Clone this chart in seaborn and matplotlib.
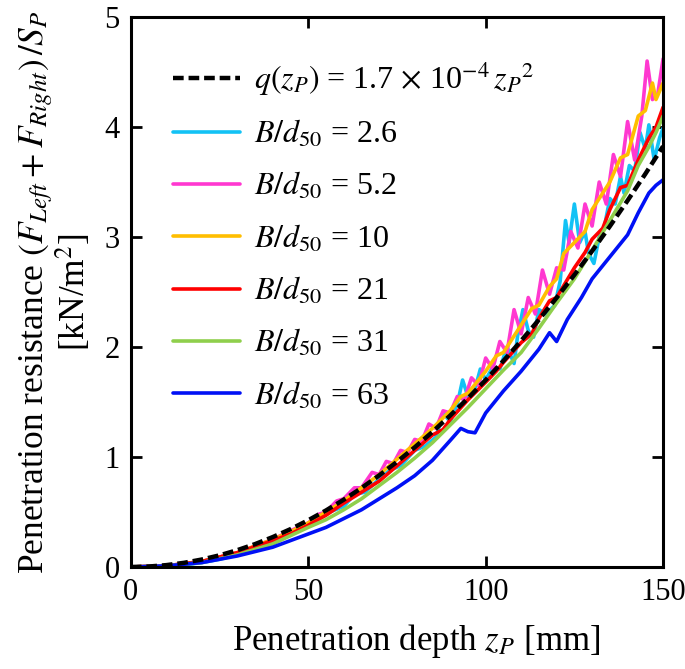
import matplotlib
matplotlib.use("Agg")
from matplotlib import pyplot as plt
import seaborn as sns

z_fit = [0, 5, 10, 15, 20, 25, 30, 35, 40, 45, 50, 55, 60, 65, 70, 75, 80, 85,
         90, 95, 100, 105, 110, 115, 120, 125, 130, 135, 140, 145, 150]
q_fit = [0.0, 0.004, 0.017, 0.038, 0.068, 0.106, 0.153, 0.208, 0.272, 0.344,
         0.425, 0.514, 0.612, 0.718, 0.833, 0.956, 1.088, 1.228, 1.377, 1.534,
         1.700, 1.874, 2.057, 2.248, 2.448, 2.656, 2.873, 3.098, 3.332, 3.574, 3.825]

z_26 = [0, 5, 10, 15, 20, 25, 30, 35, 40, 45, 50, 53, 56, 60, 63, 66, 70, 73, 76, 80,
        83, 86, 88, 90, 92, 93.5, 95, 97, 98.5, 100, 102, 104, 106, 108, 109, 110.5,
        112, 113.5, 115, 117, 119.5, 121, 122.5, 123.5, 125, 126.5, 128, 129, 130.5,
        132, 133.5, 135, 136.5, 138, 139, 140.5, 142, 143.5, 145, 146, 147.5, 149, 150]
r_26 = [0, 0.0, 0.005, 0.02, 0.04, 0.07, 0.11, 0.16, 0.22, 0.29, 0.38, 0.44, 0.50,
        0.55, 0.66, 0.68, 0.80, 0.88, 0.92, 1.06, 1.10, 1.18, 1.40, 1.32, 1.48, 1.70,
        1.55, 1.62, 1.80, 1.70, 1.82, 1.80, 2.00, 1.85, 2.10, 2.34, 2.15, 2.09, 2.34,
        2.30, 2.38, 2.60, 3.15, 2.95, 3.30, 2.95, 3.05, 2.85, 2.76, 3.00, 3.10, 3.35,
        3.30, 3.55, 3.40, 3.65, 3.60, 3.95, 3.80, 4.02, 3.70, 3.90, 3.99]

z_52 = [0, 10, 20, 30, 40, 45, 50, 53, 55, 58, 60, 63, 65, 68, 70, 72, 74, 76, 78, 80,
        82, 84, 86, 88, 90, 92, 94, 96, 98, 100, 102, 104, 106, 108, 110, 112, 114,
        116, 118, 120, 122, 124, 126, 128, 130, 132, 134, 136, 138, 140, 142, 144,
        145.5, 147, 148.5, 150]
r_52 = [0, 0.01, 0.05, 0.13, 0.25, 0.33, 0.40, 0.48, 0.50, 0.60, 0.62, 0.72, 0.72,
        0.86, 0.84, 0.96, 0.94, 1.06, 1.04, 1.16, 1.14, 1.30, 1.26, 1.42, 1.40, 1.55,
        1.52, 1.72, 1.65, 1.90, 1.80, 2.05, 1.95, 2.34, 2.12, 2.45, 2.30, 2.70, 2.48,
        2.72, 2.70, 3.05, 2.90, 3.30, 3.10, 3.50, 3.30, 3.75, 3.55, 4.05, 3.70, 4.10,
        4.60, 4.25, 4.30, 4.62]

z_10 = [0, 10, 20, 30, 40, 45, 50, 55, 60, 65, 70, 75, 80, 85, 90, 93, 95, 100, 103,
        105, 110, 113, 115, 118, 120, 122, 125, 128, 130, 133, 135, 138, 140, 143,
        145, 147, 148, 150]
r_10 = [0, 0.01, 0.05, 0.13, 0.25, 0.32, 0.40, 0.50, 0.60, 0.72, 0.84, 0.98, 1.12,
        1.26, 1.42, 1.55, 1.58, 1.78, 1.92, 1.95, 2.20, 2.35, 2.38, 2.55, 2.62, 2.85,
        2.95, 3.05, 3.25, 3.40, 3.50, 3.72, 3.75, 4.10, 4.15, 4.40, 4.25, 4.40]

z_21 = [0, 10, 20, 30, 40, 45, 50, 55, 60, 65, 68, 70, 75, 80, 85, 88, 90, 95, 100,
        103, 105, 110, 113, 115, 118, 120, 125, 128, 130, 133, 135, 138, 140, 143,
        146, 148, 150]
r_21 = [0, 0.01, 0.05, 0.13, 0.24, 0.30, 0.38, 0.47, 0.58, 0.68, 0.74, 0.78, 0.92,
        1.06, 1.20, 1.25, 1.34, 1.52, 1.68, 1.78, 1.86, 2.04, 2.12, 2.26, 2.42, 2.45,
        2.72, 2.86, 2.98, 3.08, 3.25, 3.45, 3.47, 3.70, 3.90, 4.00, 4.18]

z_31 = [0, 10, 20, 30, 40, 50, 55, 60, 65, 70, 75, 80, 85, 90, 95, 100, 105, 110,
        115, 120, 125, 130, 135, 140, 143, 146, 148, 150]
r_31 = [0, 0.01, 0.04, 0.11, 0.21, 0.36, 0.43, 0.52, 0.62, 0.74, 0.86, 0.99, 1.13,
        1.29, 1.45, 1.62, 1.79, 1.95, 2.17, 2.40, 2.62, 2.88, 3.15, 3.42, 3.65, 3.82,
        3.95, 4.10]

z_63 = [0, 10, 20, 30, 40, 50, 55, 60, 65, 70, 75, 80, 85, 90, 93, 95, 97, 100, 105,
        110, 115, 118, 120, 123, 127, 130, 135, 140, 143, 146, 148, 150]
r_63 = [0, 0.01, 0.04, 0.10, 0.18, 0.30, 0.36, 0.44, 0.52, 0.62, 0.72, 0.83, 0.97,
        1.15, 1.26, 1.23, 1.22, 1.40, 1.60, 1.78, 1.98, 2.13, 2.05, 2.25, 2.45, 2.62,
        2.82, 3.02, 3.22, 3.40, 3.47, 3.52]

series = [
    (z_26, r_26, "#12C2F5", r"$B/d_{50}$ = 2.6"),
    (z_52, r_52, "#FF38D0", r"$B/d_{50}$ = 5.2"),
    (z_10, r_10, "#FFBE00", r"$B/d_{50}$ = 10"),
    (z_21, r_21, "#FF0000", r"$B/d_{50}$ = 21"),
    (z_31, r_31, "#8FCF4C", r"$B/d_{50}$ = 31"),
    (z_63, r_63, "#0010F5", r"$B/d_{50}$ = 63"),
]

sns.set_style("ticks")
plt.rcParams["font.family"] = ["Liberation Serif", "DejaVu Serif"]
plt.rcParams["mathtext.fontset"] = "stix"
plt.rcParams["text.color"] = "black"
plt.rcParams["axes.labelcolor"] = "black"
plt.rcParams["xtick.color"] = "black"
plt.rcParams["ytick.color"] = "black"
plt.rcParams["axes.edgecolor"] = "black"

fig = plt.figure(figsize=(6.85, 6.69), dpi=100)
ax = fig.add_axes([0.191, 0.1525, 0.777, 0.822])

for z, r, col, lab in series:
    sns.lineplot(x=z, y=r, color=col, linewidth=2.6, ax=ax, label=lab, zorder=2)
sns.lineplot(x=z_fit, y=q_fit, color="black", linewidth=3.2, ax=ax, zorder=3,
             label=r"$q(z_P)$ = 1.7 $\times$ 10$^{-4}\,{z_P}^2$")
ax.lines[-1].set_dashes((2.4, 1.1))

h, l = ax.get_legend_handles_labels()
h = [h[-1]] + h[:-1]
l = [l[-1]] + l[:-1]
ax.legend(h, l, loc="upper left", frameon=False, fontsize=23, handlelength=2.1,
          handletextpad=0.45, labelspacing=0.66, bbox_to_anchor=(0.055, 0.945),
          borderaxespad=0.0)

ax.set_xlim(0, 150)
ax.set_ylim(0, 5)
ax.set_xticks([0, 50, 100, 150])
ax.set_yticks([0, 1, 2, 3, 4, 5])
ax.tick_params(direction="in", top=True, right=True, length=8, width=2,
               labelsize=22, pad=8)
for s in ax.spines.values():
    s.set_linewidth(2.2)

ax.set_xlabel(r"Penetration depth $z_P$ [mm]", fontsize=25)
ax.xaxis.set_label_coords(0.535, -0.1)
ax.set_ylabel("Penetration resistance $(F_{Left}+F_{Right})\\,/S_P$\n[kN/m$^2$]",
              fontsize=25.5, labelpad=8, linespacing=0.95)

fig.savefig("out.png", dpi=100)
